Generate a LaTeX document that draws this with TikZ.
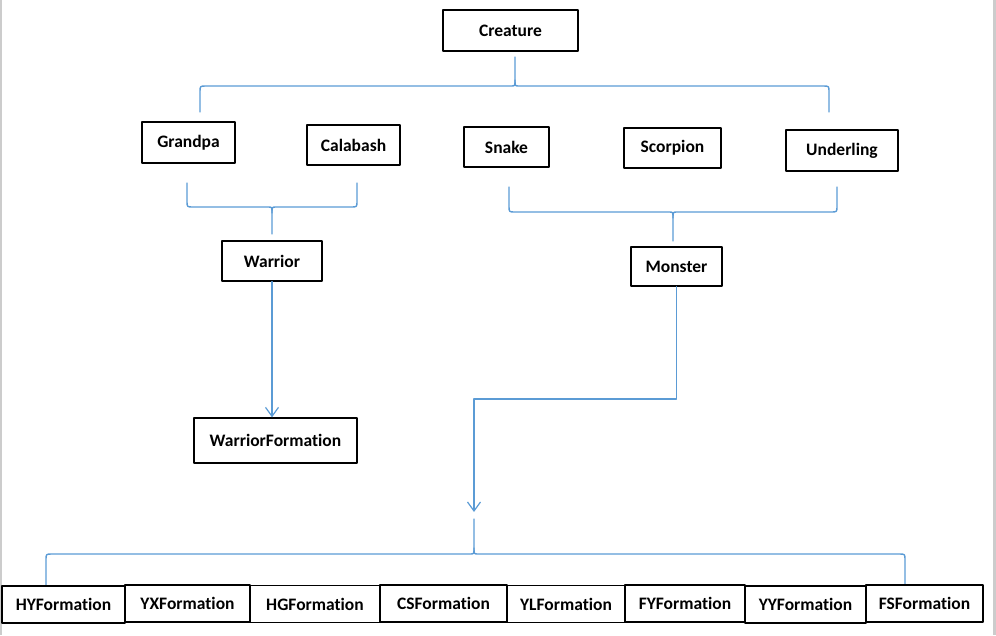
\documentclass[tikz,border=0pt]{standalone}
\usepackage{fontspec}
\setmainfont{Carlito}[Ligatures={NoCommon,NoRare}]
\usetikzlibrary{arrows.meta}
\definecolor{linkblue}{RGB}{91,155,213}
\tikzset{
  box/.style={draw, line width=1.3pt, inner sep=0pt, font=\fontsize{17.5}{20}\selectfont\bfseries},
  conn/.style={linkblue, line width=1.4pt, line cap=round, line join=round},
  arr/.style={conn, -{Straight Barb[length=9pt, width=13pt, line width=1.2pt]}}
}
% brace: left x, cusp x, right x, arms end y, bar y, stem end y
\newcommand{\wbrace}[6]{%
  \pgfmathsetmacro{\ds}{(#4>#5) ? 6 : -6}
  \draw[conn] (#1,#4) -- (#1,#5+\ds) .. controls (#1,#5) .. (#1+6,#5) -- (#2-4,#5) .. controls (#2,#5) .. (#2,#5-\ds) -- (#2,#6);
  \draw[conn] (#3,#4) -- (#3,#5+\ds) .. controls (#3,#5) .. (#3-6,#5) -- (#2+4,#5) .. controls (#2,#5) .. (#2,#5-\ds);
}
\begin{document}
\begin{tikzpicture}[x=1pt, y=-1pt, line join=round]
\useasboundingbox (0,0) rectangle (996,635);
% window edges
\fill[black!20] (0,0) rectangle (1.5,635);
\fill[black!20] (993,0) rectangle (996,635);
% top
\node[box, minimum width=135, minimum height=41] (creature) at (510.5,30.5) {Creature};
\node[box, minimum width=93, minimum height=41] (grandpa) at (188.5,142.5) {Grandpa};
\node[box, minimum width=93, minimum height=40] (calabash) at (353.5,145) {Calabash};
\node[box, minimum width=85, minimum height=40] (snake) at (506.5,147) {Snake};
\node[box, minimum width=97, minimum height=40] (scorpion) at (672.5,148) {Scorpion};
\node[box, minimum width=112, minimum height=41] (underling) at (842,150.5) {Underling};
\wbrace{200}{515}{829}{112}{86}{57}
% warriors
\node[box, minimum width=100, minimum height=40] (warrior) at (272,261) {Warrior};
\wbrace{187}{272}{357}{183}{207}{234}
\node[box, minimum width=163, minimum height=45] (wformation) at (275.5,440.5) {WarriorFormation};
\draw[arr] (warrior.south) -- (warrior.south |- wformation.north);
% monsters
\node[box, minimum width=91, minimum height=39] (monster) at (676.5,266.5) {Monster};
\wbrace{509}{673}{837}{187}{212}{241}
\coordinate (mbend) at (474,399);
\coordinate (mtip) at (474,512);
\draw[arr] (monster.south) |- (mbend) -- (mtip);
% formations
\wbrace{46}{474}{905}{585}{554}{519}
\foreach \n/\x/\w/\y in {HY/63.5/123/604.5, YX/187.5/125/603.5, HG/315/130/604, CS/443.5/127/603.5,
    YL/566/118/604, FY/685/120/603.5, YY/805.5/121/604.5, FS/924.5/117/603.5}
  \node[box, minimum width=\w, minimum height=37] (\n) at (\x,\y) {\n Formation};
\end{tikzpicture}
\end{document}
